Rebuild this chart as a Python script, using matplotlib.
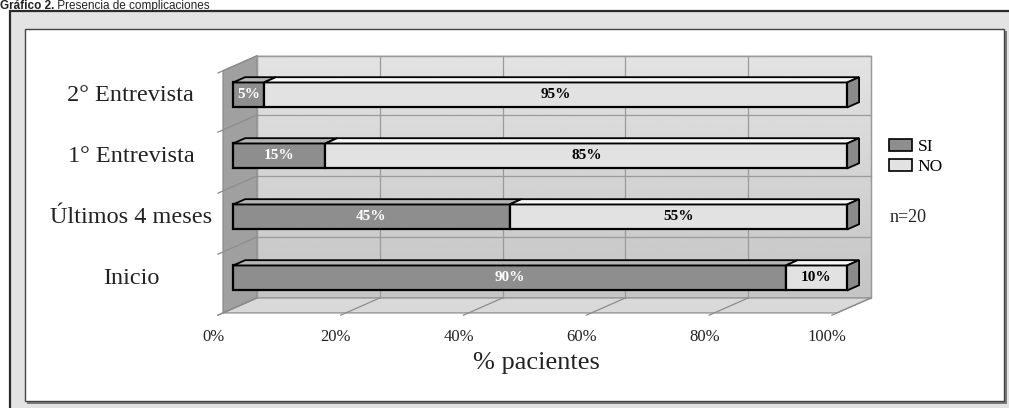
import matplotlib
matplotlib.use("Agg")
import matplotlib.pyplot as plt
from matplotlib.patches import Polygon, Rectangle
import numpy as np

# data (bottom to top)
categorias = ["Inicio", "Últimos 4 meses", "1° Entrevista", "2° Entrevista"]
si = [90, 45, 15, 5]
no = [10, 55, 85, 95]
ticks = [0, 20, 40, 60, 80, 100]
series = ["SI", "NO"]
nota = "n=20"
titulo_b = "Gráfico 2."
titulo = " Presencia de complicaciones"

W, H = 1009, 408
PXX, PXY = 6.14, 61.0      # pixels per % and per category
X0, Y0 = 223, 280          # pixel of 0% / first category
DX, DY = 34 / PXX, 15 / PXY  # full depth offset of the box
D0, D1 = 0.3, 0.65         # bar depth inside the box
BH = 0.41
LO = -0.54
TOP = LO + len(categorias) - 0.03

SERIF = ["Liberation Serif", "DejaVu Serif"]
SANS = ["Liberation Sans", "DejaVu Sans"]
C_SI, C_SI_TOP = "#8e8e8e", "#b4b4b4"
C_NO, C_NO_TOP = "#e2e2e2", "#f7f7f7"
TXT = "#222222"


def P(x, y, d):
    return (x + d * DX, y + d * DY)


def fpx(x0, y0, x1, y1):
    # figure-fraction rectangle from pixel corners
    return (x0 / W, 1 - y1 / H), (x1 - x0) / W, (y1 - y0) / H


fig = plt.figure(figsize=(W / 100, H / 100), dpi=100)
fig.patch.set_facecolor("white")

# frame
xy, w, h = fpx(10, 11, 1015, 415)
fig.add_artist(Rectangle(xy, w, h, transform=fig.transFigure, facecolor="#e3e3e3",
                         edgecolor="#2a2a2a", lw=1.6, zorder=-10))
xy, w, h = fpx(27, 31, 1007, 404)
fig.add_artist(Rectangle(xy, w, h, transform=fig.transFigure, facecolor="#7a7a7a",
                         edgecolor="none", zorder=-9))
xy, w, h = fpx(25, 29, 1004, 401)
fig.add_artist(Rectangle(xy, w, h, transform=fig.transFigure, facecolor="white",
                         edgecolor="#444444", lw=1.0, zorder=-8))

ax = fig.add_axes([0, 0, 1, 1])
ax.patch.set_visible(False)

# back wall with a soft gradient
grad = np.linspace(0.77, 0.89, 100).reshape(-1, 1)
bx0, by0 = P(0, LO, 1)
bx1, by1 = P(100, TOP, 1)
ax.imshow(grad, cmap="gray", vmin=0, vmax=1, extent=(bx0, bx1, by0, by1),
          origin="lower", aspect="auto", zorder=0)
ax.add_patch(Polygon([P(0, LO, 1), P(100, LO, 1), P(100, TOP, 1), P(0, TOP, 1)],
                     closed=True, fill=False, edgecolor="#8c8c8c", lw=0.9, zorder=1))
# left wall
ax.add_patch(Polygon([P(0, LO, 0), P(0, LO, 1), P(0, TOP, 1), P(0, TOP, 0)],
                     closed=True, facecolor="#a0a0a0", edgecolor="#8c8c8c", lw=0.9, zorder=1))
# floor
ax.add_patch(Polygon([P(0, LO, 0), P(100, LO, 0), P(100, LO, 1), P(0, LO, 1)],
                     closed=True, facecolor="#d9d9d9", edgecolor="#8c8c8c", lw=0.9, zorder=1))

# grid
for t in ticks:
    ax.plot(*zip(P(t, LO, 1), P(t, TOP, 1)), color="#9a9a9a", lw=0.9, zorder=1.5)
    ax.plot(*zip(P(t, LO, -0.15), P(t, LO, 1)), color="#8c8c8c", lw=0.9, zorder=1.5)
    tx, ty = P(t, LO, 0)
    ax.text(tx - 1.6, ty - 0.39, f"{t}%", ha="center", va="center", fontsize=12,
            family=SERIF, color=TXT)
for k in range(1, len(categorias) + 1):
    b = min(LO + k, TOP)
    ax.plot(*zip(P(0, b, 1), P(100, b, 1)), color="#9a9a9a", lw=0.9, zorder=1.5)
for k in range(0, len(categorias) + 1):
    b = min(LO + k, TOP)
    ax.plot(*zip(P(0, b, -0.15), P(0, b, 1)), color="#8c8c8c", lw=0.9, zorder=1.5)

# bars
for k, (cat, s, n) in enumerate(zip(categorias, si, no)):
    yb = k - 0.04
    yf = yb + D0 * DY
    ax.barh(yf, s, left=D0 * DX, height=BH, color=C_SI, edgecolor="black", lw=1.6, zorder=3)
    ax.barh(yf, n, left=D0 * DX + s, height=BH, color=C_NO, edgecolor="black", lw=1.6, zorder=3)
    yt = yb + BH / 2
    ax.add_patch(Polygon([P(0, yt, D0), P(s, yt, D0), P(s, yt, D1), P(0, yt, D1)],
                         closed=True, facecolor=C_SI_TOP, edgecolor="black", lw=1.3, zorder=4))
    ax.add_patch(Polygon([P(s, yt, D0), P(s + n, yt, D0), P(s + n, yt, D1), P(s, yt, D1)],
                         closed=True, facecolor=C_NO_TOP, edgecolor="black", lw=1.3, zorder=4))
    ax.add_patch(Polygon([P(s + n, yb - BH / 2, D0), P(s + n, yt, D0),
                          P(s + n, yt, D1), P(s + n, yb - BH / 2, D1)],
                         closed=True, facecolor="#8a8a8a", edgecolor="black", lw=1.3, zorder=4))
    lx, ly = P(s / 2, yb, D0)
    ax.text(lx, ly, f"{s}%", ha="center", va="center", fontsize=11, fontweight="bold",
            family=SERIF, color="white", zorder=5)
    lx, ly = P(s + n / 2, yb, D0)
    ax.text(lx, ly, f"{n}%", ha="center", va="center", fontsize=11, fontweight="bold",
            family=SERIF, color="black", zorder=5)
    ax.text(-15.0, k + 0.03, cat, ha="center", va="center", fontsize=17.5,
            family=SERIF, color=TXT)

# axis title
ax.text(51.0, -1.36, "% pacientes", ha="center", va="center", fontsize=19,
        family=SERIF, color=TXT)

# legend
handles = [Rectangle((0, 0), 1, 1, facecolor=C_SI, edgecolor="black", lw=1.2),
           Rectangle((0, 0), 1, 1, facecolor=C_NO, edgecolor="black", lw=1.2)]
leg = ax.legend(handles, series, loc="upper left", bbox_to_anchor=(889 / W, 1 - 139 / H),
                frameon=False, handlelength=1.3, handleheight=0.65, handletextpad=0.35,
                labelspacing=0.25, borderpad=0, borderaxespad=0,
                prop={"family": SERIF, "size": 12.5})
ax.text((890 - X0) / PXX, (Y0 - 218) / PXY, nota, ha="left", va="center", fontsize=13,
        family=SERIF, color=TXT)

ax.set_xlim(-X0 / PXX, (W - X0) / PXX)
ax.set_ylim((Y0 - H) / PXY, Y0 / PXY)
ax.axis("off")

# title in the strip above the frame
t1 = fig.text(0.0, 1 - 9 / H, titulo_b, ha="left", va="baseline", fontsize=8.5,
              fontweight="bold", family=SANS, color=TXT)
fig.canvas.draw()
bb = t1.get_window_extent()
fig.text(bb.x1 / W, 1 - 9 / H, titulo, ha="left", va="baseline", fontsize=8.5,
         family=SANS, color=TXT)

fig.savefig("out.png", dpi=100)
